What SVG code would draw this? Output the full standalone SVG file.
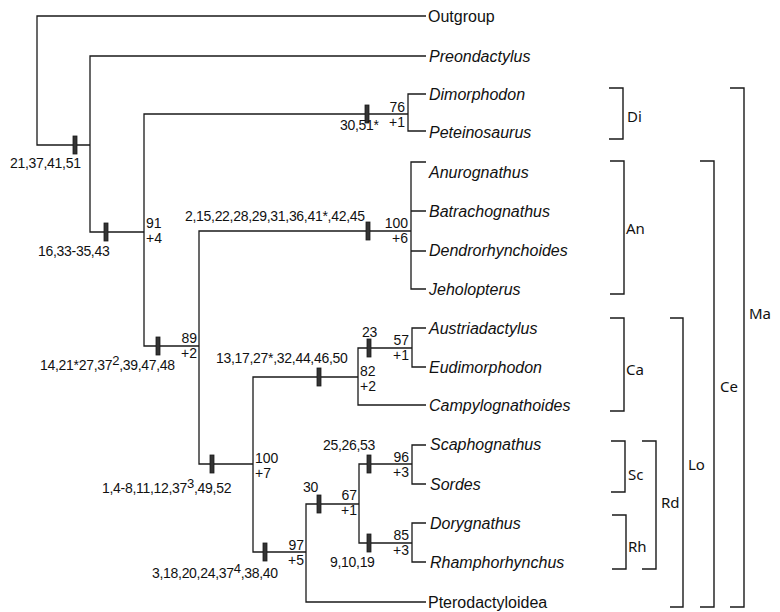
<svg xmlns="http://www.w3.org/2000/svg" width="780" height="612" viewBox="0 0 780 612">
<style>
  .ln{fill:none;stroke:#1a1a1a;stroke-width:1.3}
  .br{fill:none;stroke:#1a1a1a;stroke-width:1.4}
  .bar{fill:#333;stroke:#1a1a1a;stroke-width:0.8}
  .tip{font-family:"Liberation Sans",Arial,sans-serif;font-size:16px;font-style:italic;fill:#111}
  .tipn{font-family:"Liberation Sans",Arial,sans-serif;font-size:16px;fill:#111}
  .ch{font-family:"Liberation Sans",Arial,sans-serif;font-size:14px;letter-spacing:-0.3px;fill:#111}
  .val{font-family:"Liberation Sans",Arial,sans-serif;font-size:14px;fill:#111}
  .cl{font-family:"Noto Sans","DejaVu Sans",sans-serif;font-size:15px;fill:#111}
</style>
<rect width="780" height="612" fill="#fff"/>

<g id="connectors">
  <path class="ln" d="M426 16 H37 V145 H90"/>
  <path class="ln" d="M426 56 H90 V232 H144"/>
  <path class="ln" d="M408 114 H144 V346 H199"/>
  <path class="ln" d="M426 94 H408 V131 H426"/>
  <path class="ln" d="M411 231 H199 V464 H253"/>
  <path class="ln" d="M426 162 H411 V289 H426 M411 211 H426 M411 251 H426"/>
  <path class="ln" d="M358 377 H253 V552 H306"/>
  <path class="ln" d="M412 348 H358 V405 H426"/>
  <path class="ln" d="M426 328 H412 V367 H426"/>
  <path class="ln" d="M359 504 H306 V602 H426"/>
  <path class="ln" d="M412 464 H359 V543 H412"/>
  <path class="ln" d="M426 445 H412 V484 H426"/>
  <path class="ln" d="M426 523 H412 V562 H426"/>
</g>

<g id="marks">
  <rect class="bar" x="73" y="136" width="4" height="18"/>
  <rect class="bar" x="104" y="223" width="4" height="18"/>
  <rect class="bar" x="365" y="105" width="4" height="18"/>
  <rect class="bar" x="156" y="337" width="4" height="18"/>
  <rect class="bar" x="366" y="222" width="4" height="18"/>
  <rect class="bar" x="367" y="339" width="4" height="18"/>
  <rect class="bar" x="317" y="368" width="4" height="18"/>
  <rect class="bar" x="210" y="455" width="4" height="18"/>
  <rect class="bar" x="263" y="543" width="4" height="18"/>
  <rect class="bar" x="317" y="495" width="4" height="18"/>
  <rect class="bar" x="367" y="455" width="4" height="18"/>
  <rect class="bar" x="367" y="534" width="4" height="18"/>
</g>

<g id="characters">
  <text class="ch" x="10" y="168">21,37,41,51</text>
  <text class="ch" x="38" y="256">16,33-35,43</text>
  <text class="ch" x="340" y="130">30,51*</text>
  <text class="ch" x="40" y="370">14,21*27,37<tspan dy="-5" font-size="13">2</tspan><tspan dy="5">,39,47,48</tspan></text>
  <text class="ch" x="185" y="221">2,15,22,28,29,31,36,41*,42,45</text>
  <text class="ch" x="362" y="337">23</text>
  <text class="ch" x="216" y="363">13,17,27*,32,44,46,50</text>
  <text class="ch" x="102" y="493">1,4-8,11,12,37<tspan dy="-5" font-size="13">3</tspan><tspan dy="5">,49,52</tspan></text>
  <text class="ch" x="152" y="578">3,18,20,24,37<tspan dy="-5" font-size="13">4</tspan><tspan dy="5">,38,40</tspan></text>
  <text class="ch" x="303" y="492">30</text>
  <text class="ch" x="323" y="450">25,26,53</text>
  <text class="ch" x="330" y="567">9,10,19</text>
</g>

<g id="support">
  <text class="val" x="405" y="112" text-anchor="end">76</text>
  <text class="val" x="405" y="127" text-anchor="end">+1</text>
  <text class="val" x="146" y="228">91</text>
  <text class="val" x="146" y="243">+4</text>
  <text class="val" x="197" y="343" text-anchor="end">89</text>
  <text class="val" x="197" y="358" text-anchor="end">+2</text>
  <text class="val" x="408" y="228" text-anchor="end">100</text>
  <text class="val" x="408" y="243" text-anchor="end">+6</text>
  <text class="val" x="409" y="345" text-anchor="end">57</text>
  <text class="val" x="409" y="360" text-anchor="end">+1</text>
  <text class="val" x="360" y="376">82</text>
  <text class="val" x="360" y="391">+2</text>
  <text class="val" x="255" y="463">100</text>
  <text class="val" x="255" y="478">+7</text>
  <text class="val" x="304" y="550" text-anchor="end">97</text>
  <text class="val" x="304" y="565" text-anchor="end">+5</text>
  <text class="val" x="357" y="500" text-anchor="end">67</text>
  <text class="val" x="357" y="515" text-anchor="end">+1</text>
  <text class="val" x="409" y="462" text-anchor="end">96</text>
  <text class="val" x="409" y="477" text-anchor="end">+3</text>
  <text class="val" x="409" y="540" text-anchor="end">85</text>
  <text class="val" x="409" y="555" text-anchor="end">+3</text>
</g>

<g id="tip-outgroup"><text class="tipn" x="428" y="22">Outgroup</text></g>
<g id="tip-preondactylus"><text class="tip" x="429" y="62">Preondactylus</text></g>
<g id="tip-dimorphodon"><text class="tip" x="429" y="100">Dimorphodon</text></g>
<g id="tip-peteinosaurus"><text class="tip" x="429" y="138">Peteinosaurus</text></g>
<g id="tip-anurognathus"><text class="tip" x="429" y="178">Anurognathus</text></g>
<g id="tip-batrachognathus"><text class="tip" x="429" y="217">Batrachognathus</text></g>
<g id="tip-dendrorhynchoides"><text class="tip" x="429" y="256">Dendrorhynchoides</text></g>
<g id="tip-jeholopterus"><text class="tip" x="429" y="295">Jeholopterus</text></g>
<g id="tip-austriadactylus"><text class="tip" x="429" y="334">Austriadactylus</text></g>
<g id="tip-eudimorphodon"><text class="tip" x="429" y="373">Eudimorphodon</text></g>
<g id="tip-campylognathoides"><text class="tip" x="429" y="411">Campylognathoides</text></g>
<g id="tip-scaphognathus"><text class="tip" x="430" y="450">Scaphognathus</text></g>
<g id="tip-sordes"><text class="tip" x="430" y="490">Sordes</text></g>
<g id="tip-dorygnathus"><text class="tip" x="430" y="529">Dorygnathus</text></g>
<g id="tip-rhamphorhynchus"><text class="tip" x="430" y="568">Rhamphorhynchus</text></g>
<g id="tip-pterodactyloidea"><text class="tipn" x="428" y="608">Pterodactyloidea</text></g>

<g id="clade-di"><path class="br" d="M609 88 H623 V139 H609"/><text class="cl" x="627" y="122">Di</text></g>
<g id="clade-an"><path class="br" d="M610 161 H624 V294 H610"/><text class="cl" x="626" y="234">An</text></g>
<g id="clade-ca"><path class="br" d="M610 318 H624 V411 H610"/><text class="cl" x="626" y="375">Ca</text></g>
<g id="clade-sc"><path class="br" d="M611 441 H625 V492 H611"/><text class="cl" x="628" y="480">Sc</text></g>
<g id="clade-rh"><path class="br" d="M612 515 H626 V569 H612"/><text class="cl" x="628" y="552">Rh</text></g>
<g id="clade-rd"><path class="br" d="M642 441 H656 V569 H642"/><text class="cl" x="661" y="508">Rd</text></g>
<g id="clade-lo"><path class="br" d="M670 318 H683 V607 H670"/><text class="cl" x="688" y="470">Lo</text></g>
<g id="clade-ce"><path class="br" d="M700 161 H714 V607 H700"/><text class="cl" x="720" y="392">Ce</text></g>
<g id="clade-ma"><path class="br" d="M730 88 H744 V607 H730"/><text class="cl" x="749" y="319">Ma</text></g>
</svg>
